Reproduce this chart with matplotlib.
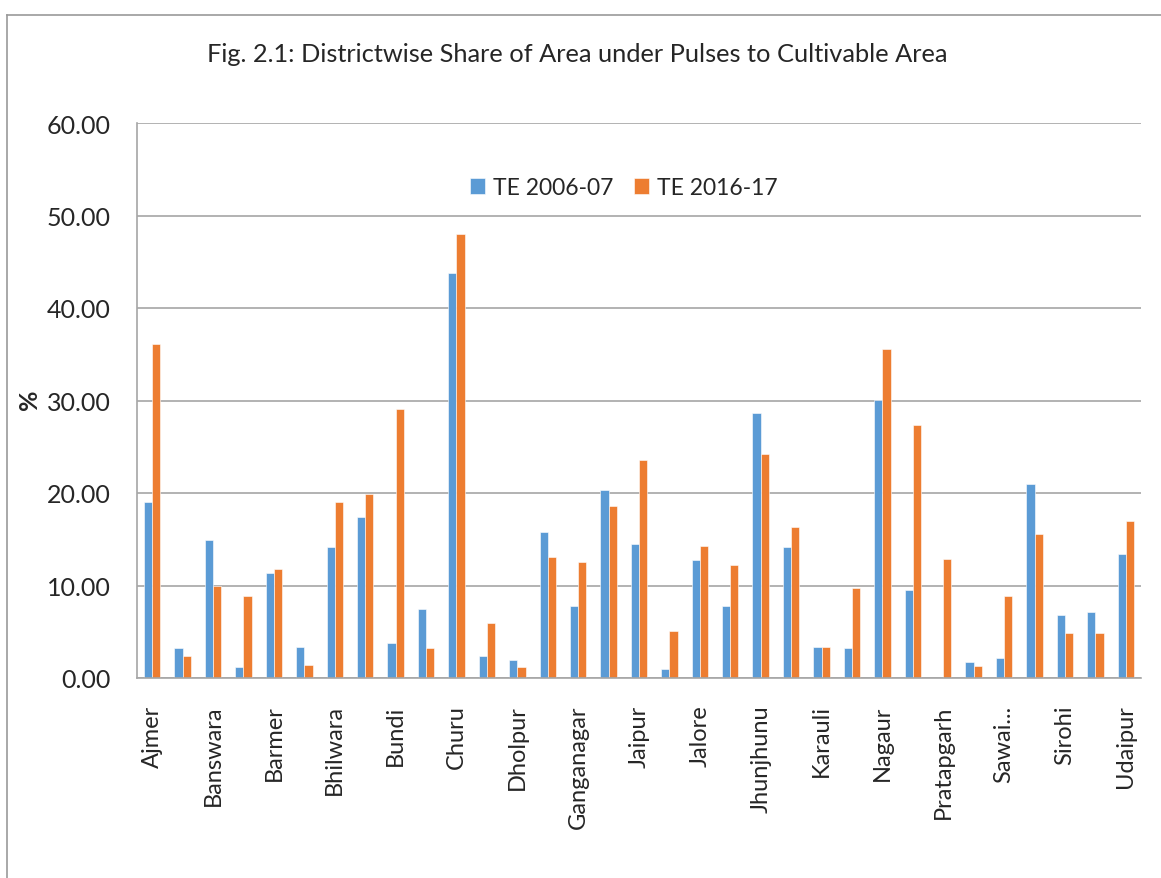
import numpy as np
import matplotlib
matplotlib.use('Agg')
from matplotlib import pyplot as plt
from matplotlib.lines import Line2D

plt.rcParams['font.family'] = ['Lato', 'DejaVu Sans']

districts = ['Ajmer', 'Alwar', 'Banswara', 'Baran', 'Barmer', 'Bharatpur',
             'Bhilwara', 'Bikaner', 'Bundi', 'Chittorgarh', 'Churu', 'Dausa',
             'Dholpur', 'Dungarpur', 'Ganganagar', 'Hanumangarh', 'Jaipur',
             'Jaisalmer', 'Jalore', 'Jhalawar', 'Jhunjhunu', 'Jodhpur',
             'Karauli', 'Kota', 'Nagaur', 'Pali', 'Pratapgarh', 'Rajsamand',
             'Sawai...', 'Sikar', 'Sirohi', 'Tonk', 'Udaipur']

te_2006 = [19.0, 3.2, 14.9, 1.2, 11.4, 3.4, 14.2, 17.4, 3.8, 7.5, 43.8,
           2.4, 2.0, 15.8, 7.8, 20.3, 14.5, 1.0, 12.8, 7.8, 28.6, 14.2,
           3.4, 3.2, 30.1, 9.5, 0.0, 1.7, 2.2, 21.0, 6.8, 7.1, 13.4]
te_2016 = [36.1, 2.4, 10.0, 8.9, 11.8, 1.4, 19.0, 19.9, 29.1, 3.2, 48.0,
           6.0, 1.2, 13.1, 12.5, 18.6, 23.6, 5.1, 14.3, 12.2, 24.2, 16.3,
           3.4, 9.7, 35.6, 27.3, 12.9, 1.3, 8.9, 15.6, 4.9, 4.9, 17.0]

blue = '#5B9BD5'
orange = '#ED7D31'
grid_col = '#A6A6A6'
text_col = '#262626'

W, H = 1161, 879
fig = plt.figure(figsize=(W / 100, H / 100), dpi=100)

# outer chart border (left and top edges)
fig.add_artist(Line2D([7 / W, 7 / W], [0, 1 - 16 / H], transform=fig.transFigure,
                      color='#9A9A9A', lw=1.2))
fig.add_artist(Line2D([7 / W, 1], [1 - 16 / H, 1 - 16 / H], transform=fig.transFigure,
                      color='#9A9A9A', lw=1.2))

ax = fig.add_axes([137 / W, 1 - 679 / H, (1141 - 137) / W, (679 - 124) / H])

x = np.arange(len(districts))
bw = 0.27
ax.bar(x - bw / 2, te_2006, bw, color=blue, edgecolor='white', linewidth=0.4,
       label='TE 2006-07', zorder=3)
ax.bar(x + bw / 2, te_2016, bw, color=orange, edgecolor='white', linewidth=0.4,
       label='TE 2016-17', zorder=3)

ax.set_xlim(-0.5, len(districts) - 0.5)
ax.set_ylim(0, 60)
ax.set_yticks(np.arange(0, 61, 10))
ax.set_yticklabels(['%.2f' % v for v in np.arange(0, 61, 10)], fontsize=18, color=text_col)
ax.set_xticks(x[::2])
ax.set_xticklabels(districts[::2], rotation=90, fontsize=17, color=text_col, va='top')
ax.tick_params(axis='x', length=0, pad=19)
ax.tick_params(axis='y', length=0, pad=19)

ax.grid(axis='y', color=grid_col, lw=1.2, zorder=0)
for side in ['top', 'right']:
    ax.spines[side].set_visible(False)
ax.spines['left'].set_color(grid_col)
ax.spines['left'].set_linewidth(1.2)
ax.spines['bottom'].set_color(grid_col)
ax.spines['bottom'].set_linewidth(1.2)
ax.spines['bottom'].set_zorder(4)

fig.text(30 / W, 1 - 400 / H, '%', rotation=90, ha='center', va='center',
         fontsize=18, fontweight='bold', color=text_col)

ax.legend(loc='upper center', bbox_to_anchor=(0.485, 0.94), ncol=2, frameon=False,
          fontsize=16.5, handlelength=0.65, handleheight=0.65, handletextpad=0.35,
          columnspacing=0.9, labelcolor=text_col)

fig.text(577 / W, 1 - 54 / H, 'Fig. 2.1: Districtwise Share of Area under Pulses to Cultivable Area',
         ha='center', va='center', fontsize=18.3, color=text_col)

fig.savefig('out.png', dpi=100)
